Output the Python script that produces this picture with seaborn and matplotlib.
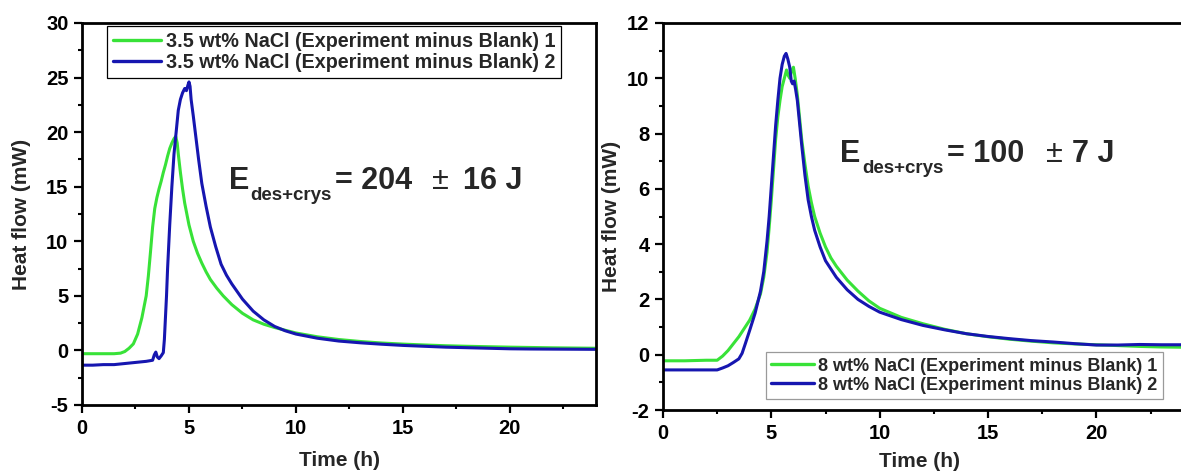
import matplotlib
matplotlib.use("Agg")
import numpy as np
import pandas as pd
import seaborn as sns
import matplotlib.pyplot as plt
from matplotlib.ticker import MultipleLocator

# ---------------- data ----------------
# Left panel: 3.5 wt% NaCl
t_a1 = [0, 0.5, 1.0, 1.5, 1.8, 2.0, 2.2, 2.4, 2.6, 2.8, 3.0, 3.1, 3.2, 3.3, 3.4, 3.5, 3.6, 3.7,
        3.8, 3.9, 4.0, 4.1, 4.2, 4.3, 4.38, 4.45, 4.5, 4.6, 4.7, 4.8, 5.0, 5.2, 5.4, 5.6, 5.8,
        6.0, 6.3, 6.6, 7.0, 7.5, 8.0, 8.5, 9.0, 9.5, 10, 11, 12, 13, 14, 15, 16, 17, 18, 19,
        20, 21, 22, 23, 24]
y_a1 = [-0.3, -0.3, -0.3, -0.3, -0.25, -0.1, 0.2, 0.6, 1.5, 3.0, 5.0, 6.8, 9.0, 11.3, 13.0,
        14.0, 14.8, 15.5, 16.3, 17.0, 17.8, 18.5, 19.0, 19.4, 19.6, 19.0, 18.0, 16.3, 14.8,
        13.5, 11.5, 10.0, 8.9, 8.0, 7.2, 6.5, 5.7, 5.0, 4.2, 3.4, 2.8, 2.4, 2.1, 1.85, 1.6,
        1.25, 1.0, 0.82, 0.68, 0.58, 0.5, 0.43, 0.38, 0.34, 0.3, 0.27, 0.24, 0.22, 0.2]

t_a2 = [0, 0.5, 1.0, 1.5, 2.0, 2.5, 3.0, 3.3, 3.38, 3.45, 3.52, 3.6, 3.7, 3.8, 3.85, 3.9, 3.95,
        4.0, 4.1, 4.2, 4.3, 4.4, 4.5, 4.6, 4.7, 4.8, 4.88, 4.95, 5.0, 5.05, 5.1, 5.2, 5.3, 5.45,
        5.6, 5.8, 6.0, 6.25, 6.5, 6.75, 7.0, 7.5, 8.0, 8.5, 9.0, 9.5, 10, 11, 12, 13, 14, 15,
        16, 17, 18, 19, 20, 21, 22, 23, 24]
y_a2 = [-1.35, -1.35, -1.3, -1.3, -1.2, -1.1, -1.0, -0.9, -0.4, -0.15, -0.6, -0.75, -0.5,
        -0.2, 1.0, 3.0, 5.0, 7.5, 11.5, 15.0, 18.0, 20.0, 22.0, 23.0, 23.6, 24.0, 23.8, 24.3,
        24.6, 24.2, 23.0, 21.5, 19.9, 17.5, 15.3, 13.2, 11.3, 9.5, 7.9, 6.9, 6.1, 4.7, 3.6,
        2.8, 2.2, 1.8, 1.5, 1.12, 0.86, 0.7, 0.57, 0.46, 0.38, 0.3, 0.25, 0.2, 0.15, 0.13,
        0.12, 0.11, 0.1]

# Right panel: 8 wt% NaCl
t_b1 = [0, 1, 2, 2.5, 2.75, 3.0, 3.25, 3.5, 3.75, 4.0, 4.25, 4.5, 4.65, 4.8, 4.9, 5.0, 5.1, 5.2,
        5.3, 5.4, 5.5, 5.6, 5.7, 5.78, 5.85, 5.95, 6.02, 6.1, 6.2, 6.3, 6.4, 6.55, 6.7, 6.85,
        7.0, 7.25, 7.5, 7.75, 8.0, 8.5, 9.0, 9.5, 10, 11, 12, 13, 14, 15, 16, 17, 18, 19, 20,
        21, 22, 23, 24]
y_b1 = [-0.22, -0.22, -0.2, -0.2, -0.05, 0.15, 0.4, 0.65, 0.95, 1.25, 1.65, 2.2, 2.8, 3.7, 4.6,
        5.6, 6.7, 7.8, 8.6, 9.2, 9.7, 10.0, 10.3, 10.1, 10.0, 10.3, 10.4, 10.0, 9.4, 8.6, 7.8,
        6.9, 6.1, 5.5, 5.0, 4.4, 3.9, 3.5, 3.2, 2.7, 2.3, 1.95, 1.68, 1.35, 1.12, 0.92, 0.76,
        0.65, 0.56, 0.49, 0.43, 0.39, 0.36, 0.33, 0.3, 0.28, 0.27]

t_b2 = [0, 1, 2, 2.5, 2.75, 3.0, 3.25, 3.5, 3.65, 3.8, 4.0, 4.25, 4.5, 4.65, 4.8, 4.9, 5.0, 5.1,
        5.2, 5.3, 5.4, 5.5, 5.6, 5.68, 5.76, 5.85, 5.92, 5.98, 6.05, 6.12, 6.2, 6.3, 6.4, 6.55,
        6.7, 6.85, 7.0, 7.25, 7.5, 7.75, 8.0, 8.5, 9.0, 9.5, 10, 11, 12, 13, 14, 15, 16, 17,
        18, 19, 20, 21, 22, 23, 24]
y_b2 = [-0.55, -0.55, -0.55, -0.55, -0.48, -0.4, -0.28, -0.15, 0.05, 0.4, 0.88, 1.5, 2.3, 3.0,
        4.1, 5.0, 6.1, 7.2, 8.3, 9.2, 10.0, 10.5, 10.8, 10.9, 10.7, 10.4, 9.9, 9.8, 9.9, 9.6,
        9.2, 8.4, 7.6, 6.5, 5.6, 5.0, 4.5, 3.9, 3.4, 3.1, 2.8, 2.35, 2.0, 1.75, 1.54, 1.27,
        1.06, 0.9, 0.76, 0.66, 0.58, 0.51, 0.46, 0.4, 0.35, 0.35, 0.37, 0.36, 0.36]

labels_a = ["3.5 wt% NaCl (Experiment minus Blank) 1", "3.5 wt% NaCl (Experiment minus Blank) 2"]
labels_b = ["8 wt% NaCl (Experiment minus Blank) 1", "8 wt% NaCl (Experiment minus Blank) 2"]
x_ticks = [0, 5, 10, 15, 20]
y_ticks_a = [-5, 0, 5, 10, 15, 20, 25, 30]
y_ticks_b = [-2, 0, 2, 4, 6, 8, 10, 12]
energy_a = ("204", "16 J")
energy_b = ("100", "7 J")

GREEN = "#38e238"
BLUE = "#1616b0"

# ---------------- style ----------------
sns.set_theme(style="ticks")
plt.rcParams["font.family"] = ["Liberation Sans", "DejaVu Sans"]
plt.rcParams["font.weight"] = "bold"
plt.rcParams["axes.labelweight"] = "bold"
plt.rcParams["axes.unicode_minus"] = False

W, H = 1181, 475
fig = plt.figure(figsize=(W / 100, H / 100), dpi=100)
ax1 = fig.add_axes([82 / W, (H - 405) / H, 513.5 / W, 382 / H])
ax2 = fig.add_axes([663 / W, (H - 410) / H, 520 / W, 387 / H])


def draw(ax, t1, y1, t2, y2, labels):
    d1 = pd.DataFrame({"t": t1, "y": y1})
    d2 = pd.DataFrame({"t": t2, "y": y2})
    sns.lineplot(data=d1, x="t", y="y", color=GREEN, lw=2.2, label=labels[0], ax=ax)
    sns.lineplot(data=d2, x="t", y="y", color=BLUE, lw=2.2, label=labels[1], ax=ax)


def style(ax, yticks, yminor):
    ax.set_xlim(0, 24)
    ax.set_ylim(yticks[0], yticks[-1])
    ax.set_xticks(x_ticks)
    ax.set_yticks(yticks)
    ax.xaxis.set_minor_locator(MultipleLocator(2.5))
    ax.yaxis.set_minor_locator(MultipleLocator(yminor))
    for s in ax.spines.values():
        s.set_linewidth(2.0)
        s.set_color("black")
    ax.tick_params(which="major", direction="out", length=5.8, width=1.6, labelsize=14.5,
                   colors="black")
    ax.tick_params(axis="x", which="major", pad=4.2)
    ax.tick_params(axis="y", which="major", pad=4.0)
    ax.tick_params(which="minor", direction="out", length=3.2, width=1.5, colors="black")
    for lab in ax.get_xticklabels() + ax.get_yticklabels():
        lab.set_fontweight("bold")
    ax.set_xlabel("Time (h)", fontsize=15, fontweight="bold")
    ax.set_ylabel("Heat flow (mW)", fontsize=15, fontweight="bold")


draw(ax1, t_a1, y_a1, t_a2, y_a2, labels_a)
draw(ax2, t_b1, y_b1, t_b2, y_b2, labels_b)
style(ax1, y_ticks_a, 2.5)
style(ax2, y_ticks_b, 1)
ax2.spines["right"].set_visible(False)

ax1.xaxis.set_label_coords(0.502, -0.12)
ax1.yaxis.set_label_coords(-0.1, 0.5)
ax2.xaxis.set_label_coords(0.493, -0.108)
ax2.yaxis.set_label_coords(-0.081, 0.5)

leg_common = dict(frameon=True, fancybox=False, framealpha=1, borderaxespad=0,
                  handletextpad=0.22, borderpad=0.3, labelspacing=0.1)
l1 = ax1.legend(loc="upper left", bbox_to_anchor=(0.0487, 0.992), edgecolor="black",
                handlelength=2.45, prop={"size": 14.2, "weight": "bold"}, **leg_common)
l2 = ax2.legend(loc="lower right", bbox_to_anchor=(0.9615, 0.0284), edgecolor="#9a9a9a",
                handlelength=2.4, prop={"size": 13, "weight": "bold"}, **leg_common)
for l in (l1, l2):
    l.get_frame().set_linewidth(0.9)
    for ln in l.get_lines():
        ln.set_linewidth(2.4)


def energy(x0, base, xs, xeq, xpm, xrest, vals):
    """Place the E_des+crys annotation pieces (positions in figure pixels)."""
    def ft(x, y, s, **kw):
        fig.text(x / W, 1 - y / H, s, va="baseline", ha=kw.pop("ha", "left"), **kw)
    ft(x0, base, "E", fontsize=22, fontweight="bold")
    ft(xs, base + 11, "des+crys", fontsize=13.5, fontweight="bold")
    ft(xeq, base, "= " + vals[0], fontsize=22, fontweight="bold")
    ft(xpm, base, "±", fontsize=22, fontweight="normal", ha="center")
    ft(xrest, base, vals[1], fontsize=22, fontweight="bold")


energy(229, 189, 250, 335, 440, 463, energy_a)
energy(840, 162, 862, 947, 1054, 1072, energy_b)

fig.savefig("out.png", dpi=100)
